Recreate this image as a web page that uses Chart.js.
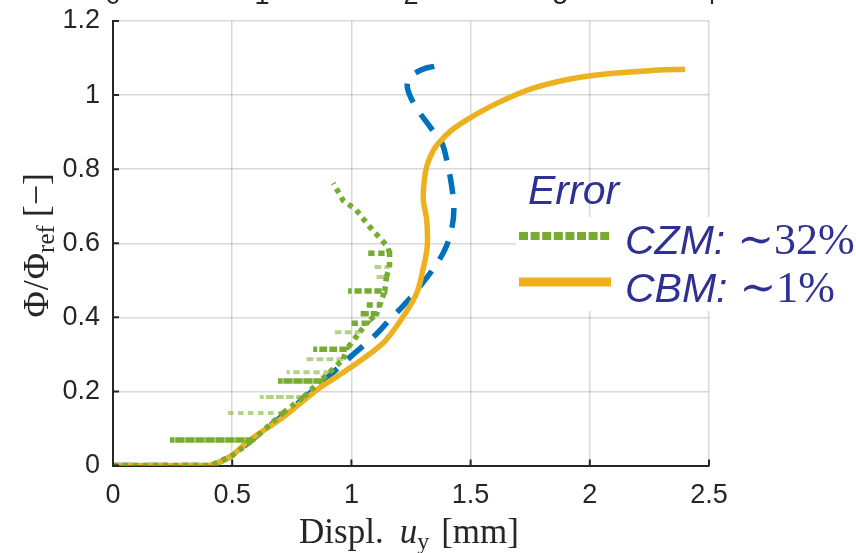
<!DOCTYPE html>
<html>
<head>
<meta charset="utf-8">
<script src="https://cdn.jsdelivr.net/npm/chart.js@4.4.1/dist/chart.umd.min.js"></script>
<style>
  html, body { margin: 0; padding: 0; background: #fff; overflow: hidden; }
  #wrap { position: relative; width: 856px; height: 553px; overflow: hidden; }
  #chart { position: absolute; left: 0; top: -40px; }
</style>
</head>
<body>
<div id="wrap"><canvas id="chart" width="856" height="593"></canvas></div>
<script>
// reference curve (blue dashed)
const refX = [0, 0.2, 0.40, 0.45, 0.5, 0.587, 0.713, 0.855, 0.99, 1.10, 1.16, 1.22, 1.27, 1.34, 1.39, 1.42, 1.43, 1.42, 1.404, 1.38, 1.33, 1.266, 1.235, 1.245, 1.30, 1.35];
const refY = [0, 0, 0, 0.01, 0.027, 0.072, 0.135, 0.212, 0.29, 0.352, 0.393, 0.433, 0.47, 0.528, 0.58, 0.636, 0.695, 0.757, 0.811, 0.87, 0.914, 0.973, 1.02, 1.048, 1.07, 1.078];

// CBM (orange solid)
const cbmX = [0, 0.2, 0.40, 0.45, 0.5, 0.574, 0.713, 0.855, 0.993, 1.132, 1.215, 1.274, 1.30, 1.318, 1.316, 1.302, 1.305, 1.318, 1.345, 1.375, 1.42, 1.484, 1.58, 1.668, 1.77, 1.877, 1.98, 2.087, 2.25, 2.40];
const cbmY = [0, 0, 0, 0.01, 0.027, 0.069, 0.13, 0.204, 0.263, 0.33, 0.40, 0.465, 0.528, 0.59, 0.662, 0.716, 0.765, 0.812, 0.852, 0.877, 0.905, 0.933, 0.968, 0.995, 1.02, 1.038, 1.05, 1.058, 1.066, 1.070];

// CZM (green dotted, with snap-back rows)
const czmX = [0, 0.41, 0.5, 0.587, 0.239, 0.587, 0.713, 0.473, 0.713, 0.80, 0.616, 0.80, 0.868, 0.692, 0.868, 0.909, 0.728, 0.909, 0.966, 0.805, 0.966, 0.98, 0.84, 0.98, 1.035, 0.923, 1.035, 1.064, 0.993, 1.064, 1.106, 1.035, 1.106, 1.119, 1.056, 1.119, 1.14, 0.986, 1.14, 1.147, 1.105, 1.147, 1.16, 1.09, 1.16, 1.16, 1.063, 1.16, 1.153, 1.077, 1.02, 0.965, 0.924];
const czmY = [0, 0, 0.027, 0.069, 0.069, 0.069, 0.142, 0.142, 0.142, 0.185, 0.185, 0.185, 0.228, 0.228, 0.228, 0.252, 0.252, 0.252, 0.287, 0.287, 0.287, 0.314, 0.314, 0.314, 0.36, 0.36, 0.36, 0.384, 0.384, 0.384, 0.41, 0.41, 0.41, 0.433, 0.433, 0.433, 0.471, 0.471, 0.471, 0.509, 0.509, 0.509, 0.536, 0.536, 0.536, 0.573, 0.573, 0.573, 0.59, 0.644, 0.69, 0.716, 0.762];
const czmLightRows = [0.142, 0.185, 0.252, 0.287, 0.36, 0.509, 0.536];

const xTicks = [0, 0.5, 1, 1.5, 2, 2.5];
const yTicks = [0, 0.2, 0.4, 0.6, 0.8, 1, 1.2];
const topTicks = [0, 1, 2, 3, 4];

const legendTitle = 'Error';
const legendNames = ['CZM:', 'CBM:'];
const legendValues = ['\u223C32%', '\u223C1%'];

const BLUE = '#0072BD', ORANGE = '#EDB120', GREEN = '#77AC30', INK = '#262626', LEG = '#2E3192';
const tickFont = { family: '"Liberation Sans", Arial, sans-serif', size: 27 };

const pts = (xs, ys) => xs.map((x, i) => ({ x: x, y: ys[i] }));

function drawParts(ctx, parts, x, y) {
  parts.forEach(p => {
    ctx.font = p.font;
    ctx.fillText(p.t, x, y + (p.dy || 0));
    x += ctx.measureText(p.t).width + (p.gap || 0);
  });
}
function partsWidth(ctx, parts) {
  let w = 0;
  parts.forEach(p => { ctx.font = p.font; w += ctx.measureText(p.t).width + (p.gap || 0); });
  return w;
}

const decor = {
  id: 'decor',
  afterDraw(chart) {
    const ctx = chart.ctx, a = chart.chartArea;
    const xs = chart.scales.x, ys = chart.scales.y;
    ctx.save();
    // inward tick marks
    ctx.strokeStyle = INK; ctx.lineWidth = 2;
    ctx.beginPath();
    yTicks.forEach(v => { const py = ys.getPixelForValue(v); ctx.moveTo(a.left, py); ctx.lineTo(a.left + 6, py); });
    xTicks.forEach(v => { const px = xs.getPixelForValue(v); ctx.moveTo(px, a.bottom); ctx.lineTo(px, a.bottom - 6); });
    ctx.stroke();

    // axis titles
    const serif = '"Liberation Serif", "DejaVu Serif", serif';
    ctx.fillStyle = INK; ctx.textBaseline = 'alphabetic';
    const xt = [
      { t: 'Displ.', font: `35px ${serif}`, gap: 16 },
      { t: 'u', font: `italic 35px ${serif}` },
      { t: 'y', font: `24px ${serif}`, dy: 6, gap: 12 },
      { t: '[mm]', font: `35px ${serif}` }
    ];
    const cx = (a.left + a.right) / 2;
    drawParts(ctx, xt, cx - partsWidth(ctx, xt) / 2 - 2, a.bottom + 77);

    const yt = [
      { t: '\u03A6', font: `36px ${serif}`, gap: 1 },
      { t: '/', font: `36px ${serif}`, gap: 1 },
      { t: '\u03A6', font: `36px ${serif}` },
      { t: 'ref', font: `25px ${serif}`, dy: 6, gap: 8 },
      { t: '[\u2212]', font: `36px ${serif}` }
    ];
    ctx.translate(48, (a.top + a.bottom) / 2 + 2);
    ctx.rotate(-Math.PI / 2);
    drawParts(ctx, yt, -partsWidth(ctx, yt) / 2, 0);
    ctx.setTransform(1, 0, 0, 1, 0, 0);

    // legend
    const off = a.top - 21;
    ctx.fillStyle = '#fff';
    ctx.fillRect(516, off + 217, 340, 94);
    ctx.lineCap = 'butt';
    ctx.strokeStyle = GREEN; ctx.lineWidth = 8; ctx.setLineDash([9, 2.6]);
    ctx.beginPath(); ctx.moveTo(519, off + 236); ctx.lineTo(611, off + 236); ctx.stroke();
    ctx.strokeStyle = ORANGE; ctx.lineWidth = 9; ctx.setLineDash([]);
    ctx.beginPath(); ctx.moveTo(519, off + 282); ctx.lineTo(611, off + 282); ctx.stroke();
    ctx.fillStyle = LEG;
    ctx.font = 'italic 41px "Liberation Sans", Arial, sans-serif';
    ctx.fillText(legendTitle, 528, off + 204);
    [0, 1].forEach(i => {
      drawParts(ctx, [
        { t: legendNames[i], font: 'italic 41px "Liberation Sans", Arial, sans-serif', gap: 12 },
        { t: legendValues[i], font: `44px ${serif}` }
      ], 625, off + 254 + i * 48);
    });
    ctx.restore();
  }
};

new Chart(document.getElementById('chart'), {
  type: 'scatter',
  data: {
    datasets: [
      {
        label: 'CZM', data: pts(czmX, czmY), showLine: true, order: 0,
        borderColor: GREEN, borderWidth: 5.5, borderDash: [5, 5], pointRadius: 0, tension: 0,
        segment: {
          borderColor: c => (c.p0.parsed.y === c.p1.parsed.y && czmLightRows.includes(c.p0.parsed.y)) ? 'rgba(119,172,48,0.55)' : undefined,
          borderWidth: c => (c.p0.parsed.y === c.p1.parsed.y && czmLightRows.includes(c.p0.parsed.y)) ? 4 : undefined
        }
      },
      {
        label: 'CBM', data: pts(cbmX, cbmY), showLine: true, order: 1,
        borderColor: ORANGE, borderWidth: 5.5, pointRadius: 0, tension: 0.3
      },
      {
        label: 'Reference', data: pts(refX, refY), showLine: true, order: 2,
        borderColor: BLUE, borderWidth: 5.5, borderDash: [20, 14], pointRadius: 0, tension: 0.35
      }
    ]
  },
  options: {
    responsive: false, animation: false, devicePixelRatio: 1,
    layout: { padding: { left: 0, right: 147, top: 0, bottom: 0 } },
    plugins: { legend: { display: false }, tooltip: { enabled: false } },
    scales: {
      x: {
        type: 'linear', position: 'bottom', min: 0, max: 2.5,
        afterBuildTicks: s => { s.ticks = xTicks.map(v => ({ value: v })); },
        afterFit: s => { s.height = 87.5; },
        ticks: { color: INK, font: tickFont, padding: 14, maxRotation: 0, callback: v => String(v) },
        grid: { color: 'rgba(0,0,0,0.15)', lineWidth: 1.5, drawTicks: false },
        border: { display: true, color: INK, width: 2 }
      },
      x2: {
        type: 'linear', position: 'top', min: 0, max: 4,
        afterBuildTicks: s => { s.ticks = topTicks.map(v => ({ value: v })); },
        afterFit: s => { s.height = 61; },
        ticks: { color: INK, font: tickFont, padding: 8, maxRotation: 0 },
        grid: { display: false, drawTicks: false },
        border: { display: false }
      },
      y: {
        type: 'linear', position: 'left', min: 0, max: 1.2,
        afterBuildTicks: s => { s.ticks = yTicks.map(v => ({ value: v })); },
        afterFit: s => { s.width = 113; },
        ticks: { color: INK, font: tickFont, padding: 13, callback: v => String(Math.round(v * 10) / 10) },
        grid: { color: 'rgba(0,0,0,0.15)', lineWidth: 1.5, drawTicks: false },
        border: { display: true, color: INK, width: 2 }
      }
    }
  },
  plugins: [decor]
});
</script>
</body>
</html>
